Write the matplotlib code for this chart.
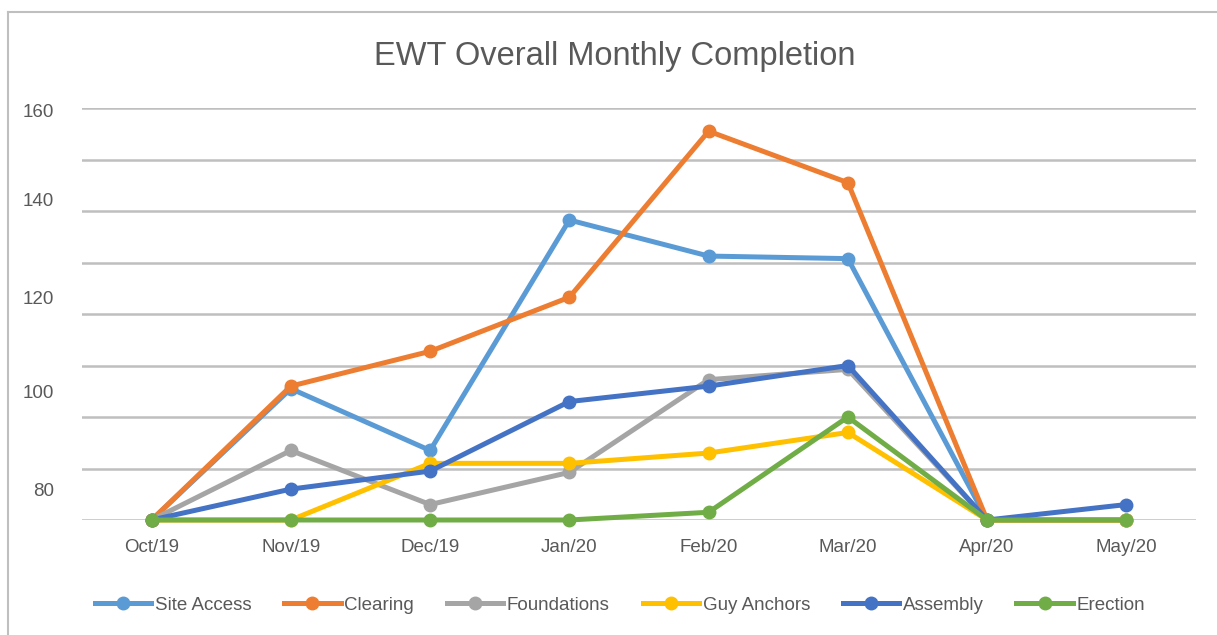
import matplotlib
matplotlib.use('Agg')
import matplotlib.pyplot as plt
import numpy as np

months = ['Oct/19', 'Nov/19', 'Dec/19', 'Jan/20', 'Feb/20', 'Mar/20', 'Apr/20', 'May/20']

site_access = [0, 51, 27, 116.5, 102.5, 101.5, 0, 0]
clearing = [0, 52, 65.5, 86.5, 151, 131, 0, 0]
foundations = [0, 27, 6, 18.5, 54.5, 58.5, 0, 0]
guy_anchors = [0, 0, 22, 22, 26, 34, 0, 0]
assembly = [0, 12, 19, 46, 52, 60, 0, 6]
erection = [0, 0, 0, 0, 3, 40, 0, 0]

series_names = ['Site Access', 'Clearing', 'Foundations', 'Guy Anchors', 'Assembly', 'Erection']
colors = ['#5B9BD5', '#ED7D31', '#A5A5A5', '#FFC000', '#4472C4', '#70AD47']

# odd label placement
ylabel_vals = [11.7, 49.8, 86.4, 124.5, 159]
ylabel_text = ['80', '100', '120', '140', '160']

text_col = '#595959'
font = 'Liberation Sans'

fig = plt.figure(figsize=(12.17, 6.35), dpi=100)
ax = fig.add_axes([82 / 1217, 115 / 635, 1114 / 1217, 412 / 635])

for y in range(0, 161, 20):
    ax.axhline(y, color='#BFBFBF', lw=1.8, zorder=0)

x = np.arange(len(months))
all_series = [site_access, clearing, foundations, guy_anchors, assembly, erection]
for vals, name, c in zip(all_series, series_names, colors):
    ax.plot(x, vals, color=c, lw=3.6, marker='o', markersize=9, label=name,
            clip_on=False, solid_joinstyle='round')

ax.set_xlim(-0.5, 7.5)
ax.set_ylim(0, 160)
ax.set_xticks(x)
ax.set_xticklabels(months, fontsize=13.5, color=text_col, family=font)
ax.set_yticks(ylabel_vals)
ax.set_yticklabels(ylabel_text, fontsize=13.5, color=text_col, family=font)
ax.tick_params(length=0)
ax.tick_params(axis='x', pad=14)
ax.tick_params(axis='y', pad=20)
for s in ax.spines.values():
    s.set_visible(False)

fig.text(615 / 1217, 1 - 56 / 635, 'EWT Overall Monthly Completion', ha='center', va='center',
         fontsize=23.5, color=text_col, family=font)

fig.legend(loc='center', bbox_to_anchor=(620 / 1217, 1 - 605 / 635), ncol=6, frameon=False,
           prop={'family': font, 'size': 13.5}, labelcolor=text_col, handlelength=3.0,
           handletextpad=0.2, columnspacing=1.75)

# chart border lines (top and left)
fig.add_artist(plt.Line2D([8 / 1217, 1], [1 - 12 / 635, 1 - 12 / 635], color='#BFBFBF', lw=1.5))
fig.add_artist(plt.Line2D([8 / 1217, 8 / 1217], [0, 1 - 12 / 635], color='#BFBFBF', lw=1.5))

plt.savefig('out.png', dpi=100)
plt.close()
